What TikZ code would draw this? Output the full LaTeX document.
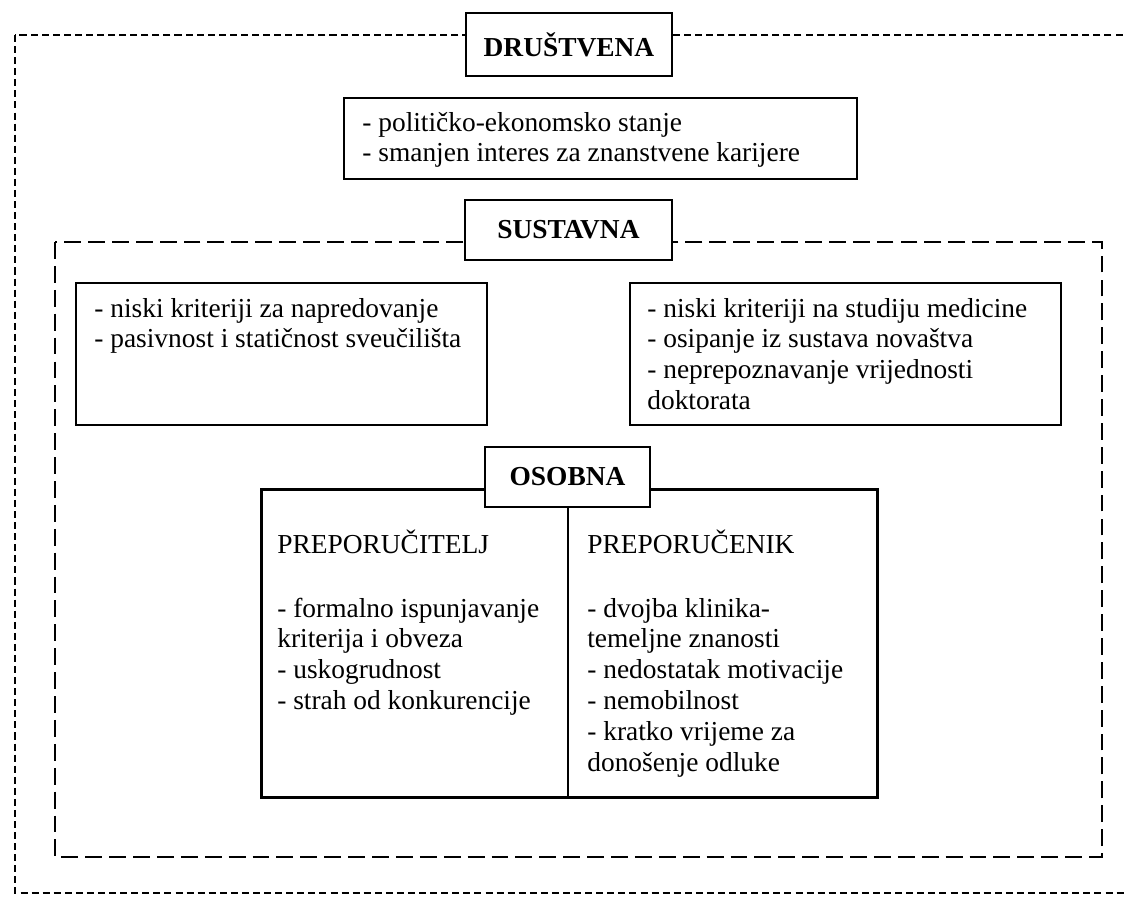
\documentclass[tikz,border=0pt]{standalone}
\usepackage{fontspec}
\setmainfont{Liberation Serif}
\usetikzlibrary{positioning}

\begin{document}
\begin{tikzpicture}[x=1cm,y=-1cm,
    every node/.style={font=\fontsize{15.6pt}{17.6pt}\selectfont},
    title/.style={draw,line width=1.1pt,fill=white,minimum height=1.2cm,
      font=\fontsize{15.6pt}{17.6pt}\selectfont\bfseries},
    frame/.style={draw,line width=1pt,anchor=north west,inner sep=0pt},
    txt/.style={anchor=north west,inner sep=0pt,align=left}]

  \clip (0,0) rectangle (22.48,17.92);

  %%%%% dashed frames %%%%%
  \draw[line width=0.75pt,dash pattern=on 4pt off 2.3pt] (0.30,0.70) rectangle (23,17.86);
  \draw[line width=1.1pt,dash pattern=on 9.6pt off 4pt] (1.10,4.84) rectangle (22.04,17.14);

  %%%%% DRUSTVENA %%%%%
  \node[title,minimum width=4.12cm,minimum height=1.26cm] (drust) at (11.38,0.89) {DRUŠTVENA};
  \node[frame,minimum width=10.26cm,minimum height=1.62cm] (drustbox) at (6.86,1.94) {};
  \node[txt] (drusttxt) at (7.24,2.18) {\strut- političko-ekonomsko stanje\\- smanjen interes za znanstvene karijere};

  %%%%% SUSTAVNA %%%%%
  \node[title,minimum width=4.14cm] (sust) at (11.37,4.6) {SUSTAVNA};
  \node[frame,minimum width=8.22cm,minimum height=2.84cm] (sustleft) at (1.5,5.64) {};
  \node[txt] (sustlefttxt) at (1.88,5.9) {\strut- niski kriteriji za napredovanje\\- pasivnost i statičnost sveučilišta};
  \node[frame,minimum width=8.62cm,minimum height=2.84cm] (sustright) at (12.58,5.64) {};
  \node[txt] (sustrighttxt) at (12.94,5.9) {\strut- niski kriteriji na studiju medicine\\- osipanje iz sustava novaštva\\- neprepoznavanje vrijednosti\\doktorata};

  %%%%% OSOBNA %%%%%
  \node[frame,line width=1.7pt,minimum width=12.32cm,minimum height=6.16cm] (osob) at (5.2,9.76) {};
  \coordinate (divtop) at (11.36,9.76);
  \coordinate (divbot) at (11.36,15.92);
  \draw[line width=1.7pt] (divtop) -- (divbot);
  \node[title,minimum width=3.3cm] (osobtitle) at (11.35,9.54) {OSOBNA};

  \node[txt] (recom) at (5.54,10.6) {\strut PREPORUČITELJ};
  \node[txt] (recomlist) at (5.54,11.9) {\strut- formalno ispunjavanje\\kriterija i obveza\\- uskogrudnost\\- strah od konkurencije};
  \node[txt] (cand) at (11.74,10.6) {\strut PREPORUČENIK};
  \node[txt] (candlist) at (11.74,11.9) {\strut- dvojba klinika-\\temeljne znanosti\\- nedostatak motivacije\\- nemobilnost\\- kratko vrijeme za\\donošenje odluke};

\end{tikzpicture}
\end{document}
